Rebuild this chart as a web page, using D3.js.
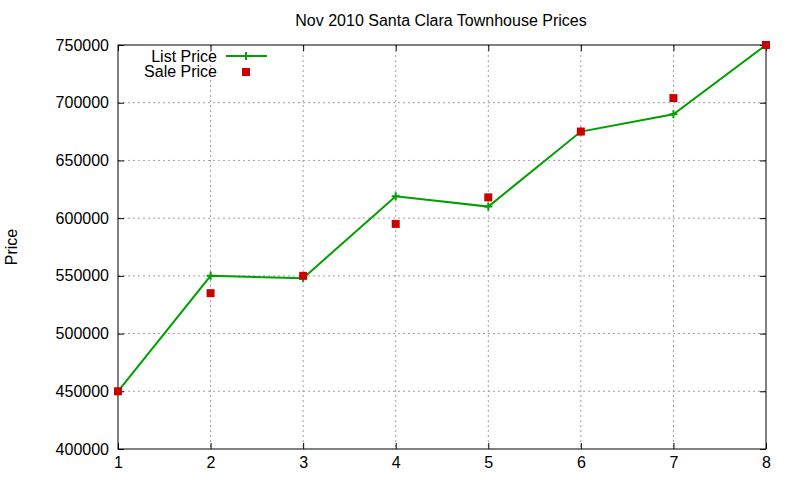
<!DOCTYPE html><html><head><meta charset="utf-8"><script src="https://cdn.jsdelivr.net/npm/d3@7"></script>
<style>body{margin:0;background:#fff}text{font-family:"Liberation Sans",Arial,sans-serif}</style></head><body><svg id="c" width="800" height="480"></svg><script>
const xs=[1,2,3,4,5,6,7,8];
const listPrice=[450000,550000,548000,619000,610000,675000,690000,750000];
const salePrice=[450000,535000,550000,595000,618000,675000,704000,750000];
const yTicks=[400000,450000,500000,550000,600000,650000,700000,750000];
const svg=d3.select("#c");
const L=118,R=766,T=45,B=449,FS=16;
const x=d3.scaleLinear().domain([1,8]).range([L,R]);
const y=d3.scaleLinear().domain([400000,750000]).range([B,T]);
const g=svg.append("g");
xs.forEach(v=>{if(v>1&&v<8)g.append("line").attr("x1",x(v)).attr("x2",x(v)).attr("y1",T).attr("y2",B).attr("stroke","#a0a0a0").attr("stroke-dasharray","2,3");});
yTicks.forEach(v=>{if(v>400000&&v<750000)g.append("line").attr("x1",L).attr("x2",R).attr("y1",y(v)).attr("y2",y(v)).attr("stroke","#a0a0a0").attr("stroke-dasharray","2,3");});
const ya=svg.append("g").attr("transform",`translate(${L},0)`).call(d3.axisLeft(y).tickValues(yTicks).tickFormat(d3.format("d")).tickSize(-6).tickPadding(9));
const yr=svg.append("g").attr("transform",`translate(${R},0)`).call(d3.axisRight(y).tickValues(yTicks).tickFormat("").tickSize(-6));
const xa=svg.append("g").attr("transform",`translate(0,${B})`).call(d3.axisBottom(x).tickValues(xs).tickFormat(d3.format("d")).tickSize(-6).tickPadding(8));
const xt=svg.append("g").attr("transform",`translate(0,${T})`).call(d3.axisTop(x).tickValues(xs).tickFormat("").tickSize(-6));
[ya,yr,xa,xt].forEach(a=>{a.select(".domain").remove();a.selectAll("text").attr("font-size",FS).attr("fill","#000");a.selectAll("line").attr("stroke","#000");});
svg.append("rect").attr("x",L).attr("y",T).attr("width",R-L).attr("height",B-T).attr("fill","none").attr("stroke","#000");
svg.append("text").attr("x",441).attr("y",26).attr("text-anchor","middle").attr("font-size",FS).text("Nov 2010 Santa Clara Townhouse Prices");
svg.append("text").attr("transform","translate(17,247) rotate(-90)").attr("text-anchor","middle").attr("font-size",FS).text("Price");
const line=d3.line().x((d,i)=>x(xs[i])).y(d=>y(d));
svg.append("path").datum(listPrice).attr("d",line).attr("fill","none").attr("stroke","#00a000").attr("stroke-width",2);
const plus=(px,py)=>{svg.append("path").attr("d",`M${px-4},${py}H${px+4}M${px},${py-4}V${py+4}`).attr("stroke","#00a000").attr("stroke-width",2);};
listPrice.forEach((d,i)=>plus(x(xs[i]),y(d)));
svg.selectAll(".s").data(salePrice).enter().append("rect").attr("x",(d,i)=>x(xs[i])-4).attr("y",d=>y(d)-4).attr("width",8).attr("height",8).attr("fill","#cc0000");
svg.append("text").attr("x",217).attr("y",62).attr("text-anchor","end").attr("font-size",FS).text("List Price");
svg.append("line").attr("x1",226).attr("x2",267).attr("y1",56).attr("y2",56).attr("stroke","#00a000").attr("stroke-width",2);
plus(246,56);
svg.append("text").attr("x",217).attr("y",77).attr("text-anchor","end").attr("font-size",FS).text("Sale Price");
svg.append("rect").attr("x",242).attr("y",68).attr("width",8).attr("height",8).attr("fill","#cc0000");
</script></body></html>
